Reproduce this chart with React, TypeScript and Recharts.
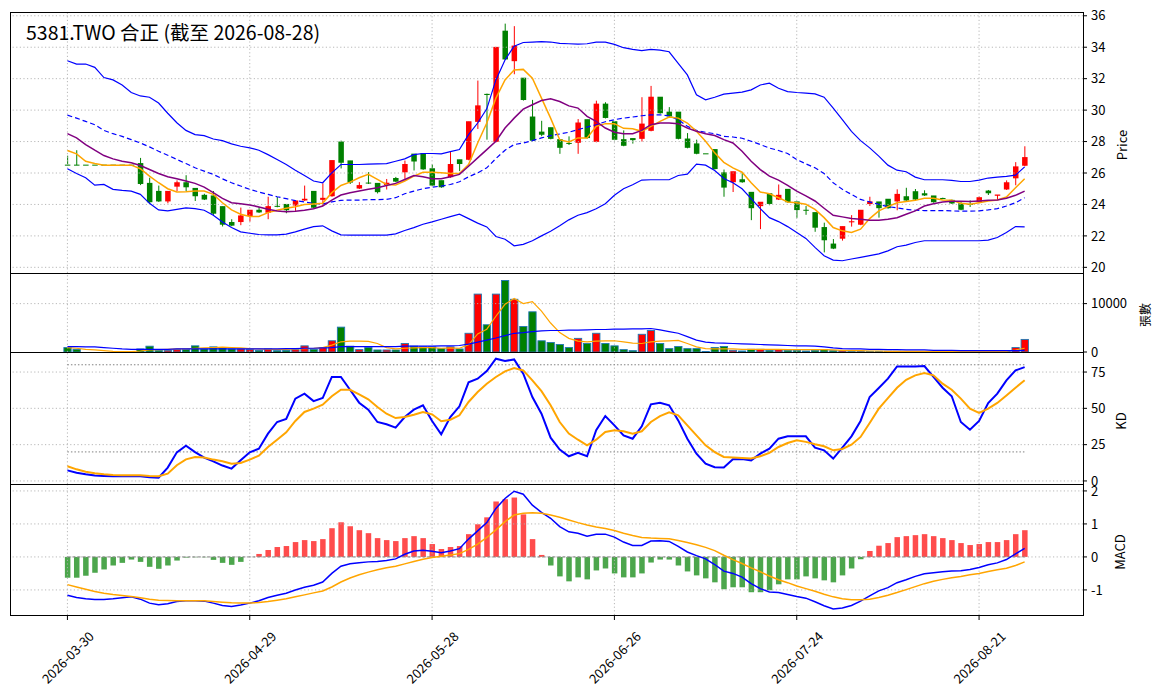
import { ComposedChart, Bar, Line, XAxis, YAxis, ReferenceLine } from "recharts";

const FONT = '"Noto Sans CJK TC", "Noto Sans", sans-serif';
const W = 1163;

// trading calendar (weekdays minus exchange holidays)
const START = "2026-03-30";
const N = 106;
const HOLIDAYS = ["2026-04-03", "2026-04-06", "2026-05-01", "2026-06-19"];
const X_TICKS = [0, 20, 40, 60, 80, 100];

function tradingDays(start: string, n: number, skip: string[]) {
  const out: string[] = [];
  const d = new Date(start + "T00:00:00Z");
  while (out.length < n) {
    const s = d.toISOString().slice(0, 10);
    const wd = d.getUTCDay();
    if (wd !== 0 && wd !== 6 && !skip.includes(s)) out.push(s);
    d.setUTCDate(d.getUTCDate() + 1);
  }
  return out;
}
const dates = tradingDays(START, N, HOLIDAYS);

const open = [
  26.5, 26.5, 26.5, 26.5, 26.5, 26.5, 26.5, 26.5, 26.6, 25.34,
  24.83, 24.16, 25.1, 25.38, 25.02, 24.58, 24.54, 23.86, 22.85, 22.85,
  23.23, 23.63, 23.44, 23.88, 24.0, 23.9, 24.22, 24.83, 24.26, 24.49,
  27.97, 26.77, 24.98, 25.36, 25.34, 25.2, 25.65, 26.01, 27.2, 27.24,
  26.27, 25.51, 25.7, 26.84, 26.81, 29.22, 31.0, 27.95, 35.02, 33.08,
  32.03, 29.56, 28.6, 28.88, 28.12, 27.88, 27.89, 29.39, 27.95, 30.38,
  29.26, 28.12, 28.19, 28.14, 28.65, 30.82, 29.87, 29.87, 28.16, 27.85,
  27.22, 27.49, 26.01, 25.38, 25.57, 24.77, 23.86, 24.68, 24.28, 24.96,
  24.16, 23.63, 23.48, 22.53, 21.48, 21.79, 22.83, 22.68, 23.99, 24.16,
  24.33, 24.16, 24.49, 24.81, 24.68, 24.54, 24.38, 24.26, 24.05, 24.0,
  24.11, 24.85, 24.52, 24.92, 25.63, 26.43,
];
const high = [
  27.1, 27.45, 26.5, 26.5, 26.5, 26.5, 26.5, 26.5, 26.96, 25.7,
  25.2, 24.83, 25.53, 25.86, 25.02, 24.68, 24.85, 23.86, 23.06, 23.8,
  23.63, 23.84, 24.49, 24.47, 24.0, 24.22, 25.2, 24.83, 25.34, 26.79,
  28.06, 26.77, 25.42, 26.05, 25.34, 25.62, 25.75, 26.79, 27.2, 27.24,
  26.54, 25.51, 27.38, 26.84, 29.26, 31.88, 31.05, 33.99, 35.5, 35.34,
  32.03, 30.65, 29.32, 28.88, 28.12, 28.33, 29.43, 29.39, 30.6, 30.5,
  29.26, 28.71, 28.19, 30.82, 31.54, 30.82, 30.19, 29.87, 28.54, 28.12,
  27.22, 27.49, 26.22, 26.08, 26.01, 24.77, 24.14, 24.68, 25.27, 24.96,
  24.16, 23.9, 23.48, 22.84, 21.8, 22.59, 23.32, 23.63, 24.49, 24.16,
  24.33, 24.96, 25.06, 24.98, 24.9, 24.54, 24.43, 24.3, 24.18, 24.26,
  24.5, 24.92, 24.6, 25.53, 26.69, 27.7,
];
const low = [
  26.5, 26.5, 26.5, 26.5, 26.5, 26.5, 26.5, 26.5, 25.23, 24.05,
  24.16, 24.07, 24.85, 24.85, 24.22, 24.28, 23.34, 22.6, 22.62, 22.68,
  22.91, 23.46, 23.06, 23.82, 23.44, 23.59, 24.22, 23.76, 23.9, 24.49,
  26.29, 25.3, 24.98, 25.3, 24.7, 24.95, 25.42, 25.63, 26.16, 26.2,
  25.17, 25.06, 25.7, 26.12, 26.81, 28.8, 28.12, 27.95, 33.19, 32.28,
  30.61, 28.02, 28.34, 28.14, 27.22, 27.78, 27.22, 28.19, 27.95, 29.47,
  28.08, 27.7, 27.87, 28.0, 28.65, 29.77, 29.56, 28.14, 27.57, 27.19,
  27.22, 26.22, 24.49, 24.79, 25.38, 23.0, 22.43, 23.95, 24.28, 24.11,
  23.15, 23.34, 22.26, 20.95, 21.16, 21.7, 22.59, 22.68, 23.9, 23.16,
  23.73, 23.63, 24.22, 24.28, 24.54, 24.11, 24.34, 24.03, 23.63, 23.84,
  24.11, 24.6, 24.33, 24.92, 25.22, 26.43,
];
const close = [
  26.5, 26.5, 26.5, 26.5, 26.5, 26.5, 26.5, 26.5, 25.27, 24.11,
  24.16, 24.83, 25.38, 25.06, 24.49, 24.28, 23.38, 22.68, 22.62, 23.27,
  23.63, 23.46, 23.86, 23.82, 23.6, 24.22, 24.33, 23.76, 24.39, 26.79,
  26.62, 25.36, 25.2, 25.32, 24.75, 25.35, 25.42, 26.54, 26.7, 26.2,
  25.17, 25.06, 26.54, 26.54, 29.26, 30.27, 30.93, 33.99, 33.19, 34.07,
  30.61, 28.02, 28.4, 28.14, 27.57, 27.85, 29.18, 28.19, 30.38, 29.47,
  28.08, 27.7, 28.06, 29.11, 30.82, 29.77, 29.56, 28.14, 27.57, 27.19,
  27.22, 26.22, 25.04, 26.08, 25.38, 23.73, 24.14, 24.0, 24.58, 24.11,
  23.61, 23.6, 22.49, 21.69, 21.16, 22.59, 22.9, 23.63, 24.16, 23.73,
  23.73, 24.64, 24.22, 24.28, 24.54, 24.11, 24.34, 24.03, 23.63, 23.95,
  24.43, 24.68, 24.6, 25.38, 26.39, 26.98,
];

const ma5 = [
  27.43, 27.22, 26.75, 26.6, 26.5, 26.5, 26.5, 26.5, 26.27, 25.8,
  25.38, 25.0, 24.79, 24.81, 24.85, 24.85, 24.64, 24.11, 23.65, 23.38,
  23.23, 23.23, 23.48, 23.63, 23.76, 23.86, 23.99, 24.03, 24.07, 24.75,
  25.21, 25.42, 25.7, 25.91, 25.59, 25.27, 25.23, 25.49, 25.8, 26.05,
  26.05, 26.01, 25.97, 25.97, 26.54, 27.91, 29.18, 30.76, 31.92, 32.55,
  32.59, 32.03, 30.76, 29.49, 28.12, 27.97, 28.23, 28.23, 28.97, 29.14,
  29.14, 28.84, 28.82, 28.65, 28.97, 29.28, 29.56, 29.49, 29.18, 28.65,
  28.02, 27.28, 26.68, 26.33, 26.05, 25.38, 24.79, 24.68, 24.43, 24.16,
  24.11, 24.01, 23.69, 23.16, 22.53, 22.32, 22.22, 22.43, 23.1, 23.59,
  23.86, 24.11, 24.18, 24.26, 24.39, 24.39, 24.28, 24.26, 24.07, 24.01,
  24.11, 24.22, 24.28, 24.47, 25.06, 25.63,
];
const ma10 = [
  28.5, 28.23, 27.81, 27.45, 27.11, 26.9, 26.75, 26.65, 26.48, 26.22,
  25.97, 25.76, 25.63, 25.49, 25.34, 25.1, 24.75, 24.39, 24.11, 24.05,
  23.97, 23.84, 23.69, 23.59, 23.54, 23.57, 23.63, 23.73, 23.9, 24.28,
  24.6, 24.75, 24.85, 24.96, 25.06, 25.21, 25.34, 25.59, 25.84, 25.76,
  25.63, 25.63, 25.76, 25.91, 26.43, 26.96, 27.49, 28.02, 28.86, 29.49,
  30.06, 30.34, 30.61, 30.72, 30.55, 30.27, 30.13, 29.6, 29.28, 28.86,
  28.59, 28.5, 28.5, 28.71, 29.07, 29.18, 29.18, 29.14, 28.86, 28.65,
  28.5, 28.38, 28.12, 27.91, 27.38, 26.75, 26.22, 25.8, 25.55, 25.21,
  24.85, 24.54, 24.22, 23.76, 23.31, 23.21, 23.1, 23.06, 23.0, 23.0,
  23.06, 23.16, 23.38, 23.59, 23.9, 24.05, 24.16, 24.2, 24.2, 24.18,
  24.22, 24.26, 24.28, 24.39, 24.58, 24.85,
];
const bbUpper = [
  33.14, 32.93, 32.93, 32.72, 32.07, 31.92, 31.6, 31.12, 30.9, 30.82,
  30.45, 29.8, 29.2, 28.71, 28.44, 28.38, 28.16, 28.06, 27.85, 27.7,
  27.6, 27.45, 27.17, 26.86, 26.54, 26.18, 25.84, 25.49, 25.38, 26.01,
  26.54, 26.54, 26.54, 26.56, 26.58, 26.6, 26.75, 26.9, 27.17, 27.24,
  27.24, 27.22, 27.36, 27.49, 28.44, 29.18, 30.08, 31.92, 33.19, 34.07,
  34.3, 34.32, 34.35, 34.33, 34.24, 34.22, 34.2, 34.22, 34.32, 34.32,
  34.18, 33.97, 33.86, 33.78, 33.86, 33.82, 33.71, 32.97, 32.24, 30.97,
  30.65, 30.82, 31.02, 31.08, 31.14, 31.29, 31.6, 31.71, 31.39, 31.18,
  31.12, 31.08, 31.03, 30.82, 30.13, 29.39, 28.65, 28.06, 27.6, 27.07,
  26.5, 26.18, 26.08, 25.74, 25.57, 25.57, 25.57, 25.53, 25.46, 25.46,
  25.55, 25.68, 25.74, 25.78, 25.86, 26.39,
];
const bbMid = [
  29.68, 29.49, 29.28, 29.07, 28.71, 28.5, 28.33, 28.12, 27.91, 27.66,
  27.38, 27.13, 26.86, 26.6, 26.33, 26.12, 25.91, 25.63, 25.38, 25.17,
  24.96, 24.79, 24.64, 24.49, 24.37, 24.24, 24.16, 24.07, 24.03, 24.16,
  24.26, 24.28, 24.28, 24.3, 24.31, 24.32, 24.43, 24.68, 24.85, 25.0,
  25.1, 25.17, 25.27, 25.44, 25.76, 26.01, 26.33, 26.92, 27.45, 27.81,
  27.91, 28.06, 28.23, 28.38, 28.48, 28.59, 28.76, 28.92, 29.07, 29.26,
  29.39, 29.49, 29.56, 29.64, 29.7, 29.7, 29.64, 29.39, 28.97, 28.71,
  28.59, 28.5, 28.33, 28.29, 28.21, 28.02, 27.81, 27.59, 27.43, 27.24,
  26.86, 26.58, 26.33, 25.97, 25.38, 24.96, 24.64, 24.32, 24.16, 24.01,
  23.86, 23.78, 23.69, 23.63, 23.61, 23.61, 23.61, 23.59, 23.57, 23.57,
  23.59, 23.65, 23.73, 23.9, 24.11, 24.43,
];
const bbLower = [
  26.27, 25.97, 25.7, 25.23, 25.27, 24.96, 24.89, 24.85, 24.64, 24.07,
  23.65, 23.59, 23.69, 23.78, 23.73, 23.63, 23.31, 22.89, 22.53, 22.26,
  22.17, 22.09, 22.07, 22.07, 22.11, 22.26, 22.43, 22.59, 22.64, 22.32,
  22.07, 22.05, 22.05, 22.05, 22.05, 22.05, 22.13, 22.34, 22.53, 22.74,
  22.89, 23.06, 23.23, 23.38, 23.1, 22.81, 22.57, 21.96, 21.79, 21.37,
  21.46, 21.69, 22.0, 22.3, 22.64, 23.02, 23.31, 23.48, 23.73, 24.05,
  24.58, 25.0, 25.25, 25.55, 25.57, 25.57, 25.57, 25.84, 25.93, 26.56,
  26.5, 26.16, 25.65, 25.38, 25.0, 24.37, 23.73, 23.16, 22.91, 22.59,
  22.22, 21.84, 21.27, 20.74, 20.46, 20.42, 20.53, 20.63, 20.74, 20.86,
  21.05, 21.31, 21.41, 21.58, 21.69, 21.69, 21.69, 21.69, 21.69, 21.69,
  21.69, 21.73, 21.9, 22.22, 22.59, 22.57,
];

// 張數
const volume = [
  915, 560, 0, 0, 0, 0, 0, 0, 630, 1200,
  350, 350, 490, 490, 1270, 630, 1060, 845, 630, 630,
  490, 350, 630, 280, 350, 490, 1270, 560, 915, 2320,
  5140, 1200, 490, 915, 420, 420, 420, 1760, 1200, 1060,
  1060, 700, 1060, 630, 3870, 11970, 5630, 11970, 14790, 10900,
  5280, 8310, 2320, 1970, 1550, 915, 2820, 1760, 3870, 1760,
  1270, 490, 280, 3660, 4440, 1760, 700, 1130, 700, 700,
  100, 915, 1130, 350, 210, 560, 560, 350, 490, 350,
  350, 210, 350, 490, 280, 280, 140, 210, 140, 140,
  140, 140, 70, 70, 70, 80, 60, 60, 80, 60,
  90, 70, 70, 120, 915, 2600,
];
const volMa5 = [
  915, 775, 560, 420, 280, 140, 70, 70, 210, 420,
  490, 560, 630, 630, 775, 845, 915, 990, 915, 845,
  700, 630, 560, 560, 560, 630, 700, 775, 915, 1410,
  2110, 2250, 2250, 2180, 1760, 915, 630, 775, 845, 915,
  915, 775, 845, 775, 1480, 3730, 4720, 7390, 9860, 11060,
  10000, 10420, 8450, 5990, 4010, 2820, 2250, 2110, 2250, 2320,
  2320, 2110, 1830, 1760, 2110, 2250, 2320, 2390, 1760, 1060,
  700, 630, 630, 630, 560, 560, 560, 560, 560, 490,
  490, 490, 490, 490, 420, 350, 280, 280, 210, 210,
  140, 140, 140, 120, 110, 100, 100, 90, 90, 90,
  90, 90, 90, 120, 420, 775,
];
const volMa20 = [
  1130, 1130, 1060, 1060, 915, 775, 630, 560, 560, 560,
  560, 560, 630, 630, 630, 630, 630, 630, 630, 630,
  630, 630, 630, 630, 700, 700, 775, 775, 845, 915,
  1130, 1130, 1130, 1130, 1130, 1130, 1130, 1200, 1200, 1200,
  1200, 1270, 1270, 1340, 1620, 2040, 2460, 2890, 3380, 3870,
  4010, 4230, 4370, 4440, 4440, 4510, 4510, 4580, 4650, 4650,
  4720, 4720, 4790, 4790, 4860, 4580, 4230, 3870, 3170, 2460,
  2040, 1900, 1830, 1760, 1690, 1620, 1550, 1480, 1410, 1340,
  1270, 1270, 1200, 1060, 845, 700, 630, 630, 560, 560,
  490, 490, 420, 420, 420, 350, 350, 350, 280, 280,
  280, 280, 280, 280, 280, 350,
];

const kLine = [
  7.3, 5.7, 4.6, 3.7, 3.4, 3.2, 3.2, 3.4, 3.2, 2.5,
  2.3, 9.2, 19.7, 24.3, 19.9, 16.1, 13.5, 10.6, 8.5, 14.2,
  19.7, 22.2, 32.6, 40.6, 42.7, 56.7, 60.1, 55.0, 57.1, 71.6,
  71.6, 62.8, 53.9, 49.1, 40.6, 39.0, 36.7, 44.0, 49.1, 52.1,
  41.3, 32.1, 44.0, 51.4, 67.9, 70.4, 75.7, 84.2, 82.6, 83.7,
  73.9, 57.8, 46.3, 29.8, 21.6, 17.0, 19.3, 17.0, 34.9, 44.7,
  38.3, 31.4, 29.1, 37.6, 52.8, 53.9, 52.1, 41.7, 29.1, 18.8,
  11.9, 9.4, 9.2, 14.9, 15.1, 14.2, 18.8, 22.2, 29.1, 30.7,
  30.7, 30.7, 22.9, 21.1, 15.4, 22.9, 30.7, 41.3, 57.8, 64.0,
  70.4, 78.9, 78.9, 78.9, 79.1, 71.6, 64.2, 58.3, 40.6, 35.3,
  41.3, 53.7, 60.1, 69.3, 76.1, 78.4,
];
const dLine = [
  10.1, 8.0, 6.4, 5.3, 4.6, 4.1, 3.9, 3.9, 3.9, 3.4,
  3.2, 5.0, 10.8, 14.9, 16.5, 16.1, 14.7, 13.5, 11.9, 12.4,
  14.7, 17.4, 23.4, 28.4, 33.5, 41.3, 47.5, 49.8, 52.5, 58.3,
  62.8, 62.8, 59.6, 56.2, 50.9, 46.3, 43.3, 44.0, 45.6, 47.5,
  45.9, 41.1, 42.2, 45.2, 54.4, 61.2, 67.0, 71.6, 75.5, 77.8,
  76.1, 69.3, 61.8, 52.1, 40.6, 32.6, 28.4, 24.5, 28.4, 33.7,
  34.9, 34.2, 32.6, 34.2, 40.6, 44.7, 47.2, 45.2, 38.3, 31.4,
  24.5, 19.9, 16.5, 16.1, 15.8, 15.4, 17.0, 19.3, 23.4, 26.1,
  28.0, 26.9, 25.3, 23.9, 21.1, 22.0, 25.0, 30.3, 39.9, 49.8,
  57.1, 64.2, 69.7, 72.7, 74.3, 72.7, 67.0, 62.8, 56.7, 49.8,
  46.8, 49.8, 53.7, 58.9, 64.2, 69.3,
];

const dif = [
  -1.16, -1.23, -1.27, -1.29, -1.29, -1.27, -1.24, -1.21, -1.28, -1.4,
  -1.45, -1.42, -1.35, -1.33, -1.33, -1.34, -1.4, -1.47, -1.5, -1.46,
  -1.4, -1.33, -1.23, -1.16, -1.1, -1.0, -0.92, -0.86, -0.76, -0.5,
  -0.28, -0.21, -0.18, -0.15, -0.14, -0.11, -0.06, 0.08, 0.18, 0.2,
  0.17, 0.13, 0.18, 0.25, 0.54, 0.79, 1.04, 1.47, 1.77, 1.99,
  1.9, 1.57, 1.35, 1.17, 0.92, 0.76, 0.72, 0.63, 0.69, 0.69,
  0.6, 0.45, 0.35, 0.35, 0.48, 0.49, 0.47, 0.32, 0.15, 0.04,
  -0.06, -0.23, -0.43, -0.5, -0.61, -0.81, -0.96, -1.06, -1.08, -1.14,
  -1.2, -1.25, -1.36, -1.48, -1.58, -1.55, -1.47, -1.34, -1.18, -1.03,
  -0.93, -0.78, -0.69, -0.59, -0.51, -0.48, -0.45, -0.43, -0.42, -0.38,
  -0.32, -0.24, -0.18, -0.08, 0.09, 0.26,
];
const dea = [
  -0.84, -0.91, -0.98, -1.05, -1.1, -1.14, -1.17, -1.2, -1.24, -1.28,
  -1.31, -1.32, -1.33, -1.33, -1.33, -1.33, -1.35, -1.37, -1.39, -1.4,
  -1.4, -1.38, -1.35, -1.31, -1.27, -1.21, -1.15, -1.09, -1.03, -0.91,
  -0.76, -0.64, -0.54, -0.46, -0.39, -0.33, -0.28, -0.21, -0.14, -0.07,
  -0.02, 0.02, 0.06, 0.1, 0.23, 0.39, 0.59, 0.82, 1.07, 1.27,
  1.32, 1.34, 1.32, 1.27, 1.2, 1.12, 1.04, 0.97, 0.91, 0.86,
  0.8, 0.72, 0.65, 0.59, 0.57, 0.56, 0.55, 0.5, 0.44, 0.37,
  0.29, 0.19, 0.05, -0.08, -0.2, -0.33, -0.45, -0.58, -0.69, -0.78,
  -0.88, -0.96, -1.04, -1.13, -1.21, -1.27, -1.3, -1.3, -1.28, -1.23,
  -1.16, -1.08, -0.99, -0.9, -0.81, -0.74, -0.68, -0.63, -0.59, -0.54,
  -0.5, -0.44, -0.39, -0.34, -0.26, -0.15,
];
const hist = [
  -0.63, -0.63, -0.57, -0.48, -0.38, -0.26, -0.18, -0.08, -0.15, -0.3,
  -0.36, -0.26, -0.11, -0.02, -0.01, -0.01, -0.09, -0.18, -0.24, -0.15,
  0.0, 0.09, 0.21, 0.3, 0.33, 0.45, 0.51, 0.48, 0.54, 0.87,
  1.05, 0.93, 0.81, 0.72, 0.57, 0.51, 0.48, 0.57, 0.63, 0.57,
  0.39, 0.24, 0.3, 0.33, 0.69, 0.99, 1.2, 1.68, 1.75, 1.8,
  1.29, 0.54, 0.06, -0.26, -0.59, -0.74, -0.62, -0.68, -0.41, -0.35,
  -0.5, -0.62, -0.62, -0.5, -0.17, -0.08, -0.08, -0.26, -0.44, -0.56,
  -0.65, -0.77, -0.98, -0.92, -0.92, -1.07, -1.07, -1.01, -0.83, -0.68,
  -0.68, -0.59, -0.65, -0.71, -0.77, -0.56, -0.35, -0.07, 0.18, 0.34,
  0.42, 0.6, 0.63, 0.66, 0.69, 0.63, 0.57, 0.51, 0.42, 0.36,
  0.39, 0.45, 0.45, 0.51, 0.69, 0.81,
];

const rows = dates.map((date, i) => ({
  i,
  date,
  open: open[i],
  high: high[i],
  low: low[i],
  close: close[i],
  ma5: ma5[i],
  ma10: ma10[i],
  bbUpper: bbUpper[i],
  bbMid: bbMid[i],
  bbLower: bbLower[i],
  volume: volume[i],
  volMa5: volMa5[i],
  volMa20: volMa20[i],
  k: kLine[i],
  d: dLine[i],
  dif: dif[i],
  dea: dea[i],
  hist: hist[i],
}));

const X_DOMAIN = [-6.3, 111.4];
const GRID = "#b0b0b0";
const UP = "#ff0000";
const DOWN = "#008000";
const tickStyle = { fill: "#000", fontSize: 13, fontFamily: FONT };
const PAD = 10; // extra room above/below each panel so tick labels are not clipped

function Candle(props: any) {
  const { x, y, width, height, payload } = props;
  if (x == null || payload == null) return null;
  const top = Math.min(y, y + height);
  const h = Math.abs(height);
  const { open: o, close: c, high: hi, low: lo } = payload;
  const color = c > o ? UP : DOWN;
  const span = hi - lo;
  const toY = (v: number) => (span > 0 ? top + ((hi - v) / span) * h : top);
  const bTop = toY(Math.max(o, c));
  const bBot = toY(Math.min(o, c));
  const cx = x + width / 2;
  return (
    <g>
      <line x1={cx} x2={cx} y1={top} y2={top + h} stroke={color} strokeWidth={1} />
      <rect x={x} y={bTop - 0.5} width={width} height={Math.max(bBot - bTop, 1)} fill={color} />
    </g>
  );
}

function VolBar(props: any) {
  const { x, y, width, height, payload } = props;
  if (x == null || payload == null || !payload.volume) return null;
  const color = payload.close > payload.open ? UP : DOWN;
  return (
    <rect x={x} y={Math.min(y, y + height)} width={width} height={Math.abs(height)}
      fill={color} stroke="#1f77b4" strokeWidth={0.9} />
  );
}

function HistBar(props: any) {
  const { x, y, width, height, payload } = props;
  if (x == null || payload == null) return null;
  const color = payload.hist >= 0 ? "rgba(255,0,0,0.7)" : "rgba(0,128,0,0.7)";
  return <rect x={x} y={Math.min(y, y + height)} width={width} height={Math.abs(height)} fill={color} />;
}

function DateTick(props: any) {
  const { x, payload } = props;
  const cy = PAD + 131 + 42;
  return (
    <text x={x} y={cy} textAnchor="middle" dominantBaseline="central"
      transform={`rotate(-45 ${x} ${cy})`} fontSize={13} fontFamily={FONT} fill="#000">
      {dates[payload.value]}
    </text>
  );
}

function vGrid() {
  return X_TICKS.map((t) => (
    <ReferenceLine key={"vx" + t} x={t} stroke={GRID} strokeDasharray="1.2 2.4" strokeWidth={0.9} />
  ));
}
function hGrid(ticks: number[]) {
  return ticks.map((t) => (
    <ReferenceLine key={"hy" + t} y={t} stroke={GRID} strokeDasharray="1.2 2.4" strokeWidth={0.9} />
  ));
}

const MARGIN = { top: PAD, right: 10, bottom: PAD, left: 10 };
const PRICE_TICKS = [20, 22, 24, 26, 28, 30, 32, 34, 36];
const VOL_TICKS = [0, 10000];
const KD_TICKS = [0, 25, 50, 75];
const MACD_TICKS = [-1, 0, 1, 2];

function yAxis(domain: number[], ticks: number[]) {
  return (
    <YAxis orientation="right" width={70} domain={domain} ticks={ticks} allowDataOverflow
      axisLine={false} tickLine={{ stroke: "#000" }} tickSize={4} tickMargin={4}
      tick={tickStyle} interval={0} />
  );
}

function hiddenX() {
  return <XAxis dataKey="i" type="number" domain={X_DOMAIN} ticks={X_TICKS} allowDataOverflow hide />;
}

function Panel({ top, height, children }: { top: number; height: number; children: any }) {
  return (
    <div style={{ position: "absolute", left: 0, top: top - PAD }}>
      <ComposedChart width={W} height={height + 2 * PAD} data={rows} margin={MARGIN}>
        {children}
      </ComposedChart>
    </div>
  );
}

export default function App() {
  return (
    <div style={{ position: "relative", width: W, height: 700, background: "#fff", fontFamily: FONT }}>
      <style>{"body{margin:0}"}</style>

      <Panel top={12} height={261}>
        {hiddenX()}
        {yAxis([19.64, 36.24], PRICE_TICKS)}
        {vGrid()}
        {hGrid(PRICE_TICKS)}
        <Bar dataKey={(d: any) => [d.low, d.high]} barSize={5.5} shape={Candle} isAnimationActive={false} />
        <Line dataKey="bbUpper" stroke="#0000ff" strokeWidth={1.2} dot={false} isAnimationActive={false} />
        <Line dataKey="bbMid" stroke="#0000ff" strokeWidth={1.2} strokeDasharray="5 3" dot={false} isAnimationActive={false} />
        <Line dataKey="bbLower" stroke="#0000ff" strokeWidth={1.2} dot={false} isAnimationActive={false} />
        <Line dataKey="ma5" stroke="#ffa500" strokeWidth={1.5} dot={false} isAnimationActive={false} />
        <Line dataKey="ma10" stroke="#800080" strokeWidth={1.5} dot={false} isAnimationActive={false} />
      </Panel>

      <Panel top={273} height={79}>
        {hiddenX()}
        {yAxis([0, 16330], VOL_TICKS)}
        {vGrid()}
        {hGrid([10000])}
        <Bar dataKey="volume" barSize={7.3} shape={VolBar} isAnimationActive={false} />
        <Line dataKey="volMa5" stroke="#ffa500" strokeWidth={1.2} dot={false} isAnimationActive={false} />
        <Line dataKey="volMa20" stroke="#0000ff" strokeWidth={1.2} dot={false} isAnimationActive={false} />
      </Panel>

      <Panel top={352} height={132}>
        {hiddenX()}
        {yAxis([-2.1, 88.8], KD_TICKS)}
        {vGrid()}
        {hGrid(KD_TICKS)}
        <ReferenceLine segment={[{ x: 0, y: 80 }, { x: 105, y: 80 }]} stroke="#808080" strokeDasharray="1.5 2" />
        <ReferenceLine segment={[{ x: 0, y: 20 }, { x: 105, y: 20 }]} stroke="#808080" strokeDasharray="1.5 2" />
        <Line dataKey="k" stroke="#0000ff" strokeWidth={2} dot={false} isAnimationActive={false} />
        <Line dataKey="d" stroke="#ffa500" strokeWidth={2} dot={false} isAnimationActive={false} />
      </Panel>

      <div style={{ position: "absolute", left: 0, top: 484 - PAD }}>
        <ComposedChart width={W} height={PAD + 131 + 85} data={rows} margin={{ ...MARGIN, bottom: 0 }}>
          <XAxis dataKey="i" type="number" domain={X_DOMAIN} ticks={X_TICKS} allowDataOverflow interval={0}
            height={85} axisLine={false} tickLine={{ stroke: "#000" }} tickSize={5} tick={<DateTick />} />
          {yAxis([-1.76, 2.21], MACD_TICKS)}
          {vGrid()}
          {hGrid(MACD_TICKS)}
          <ReferenceLine segment={[{ x: 0, y: 0 }, { x: 105, y: 0 }]} stroke="#808080" strokeDasharray="3 2" />
          <Bar dataKey="hist" barSize={5.5} shape={HistBar} isAnimationActive={false} />
          <Line dataKey="dif" stroke="#0000ff" strokeWidth={1.5} dot={false} isAnimationActive={false} />
          <Line dataKey="dea" stroke="#ffa500" strokeWidth={1.5} dot={false} isAnimationActive={false} />
        </ComposedChart>
      </div>

      <svg width={W} height={700} style={{ position: "absolute", left: 0, top: 0, pointerEvents: "none" }}>
        <rect x={10.5} y={12.5} width={1073} height={261} fill="none" stroke="#000" strokeWidth={1} />
        <rect x={10.5} y={273.5} width={1073} height={79} fill="none" stroke="#000" strokeWidth={1} />
        <rect x={10.5} y={352.5} width={1073} height={132} fill="none" stroke="#000" strokeWidth={1} />
        <rect x={10.5} y={484.5} width={1073} height={131} fill="none" stroke="#000" strokeWidth={1} />
        <text x={26} y={39.5} fontSize={19.5} fontFamily={FONT} fill="#000">5381.TWO 合正 (截至 2026-08-28)</text>
        <text x={1121} y={145} fontSize={13} fontFamily={FONT} textAnchor="middle" dominantBaseline="central"
          transform="rotate(-90 1121 145)">Price</text>
        <text x={1144} y={315} fontSize={12} fontFamily={FONT} textAnchor="middle" dominantBaseline="central"
          transform="rotate(-90 1144 315)">張數</text>
        <text x={1120} y={421} fontSize={13} fontFamily={FONT} textAnchor="middle" dominantBaseline="central"
          transform="rotate(-90 1120 421)">KD</text>
        <text x={1119} y={552} fontSize={13} fontFamily={FONT} textAnchor="middle" dominantBaseline="central"
          transform="rotate(-90 1119 552)">MACD</text>
      </svg>
    </div>
  );
}
